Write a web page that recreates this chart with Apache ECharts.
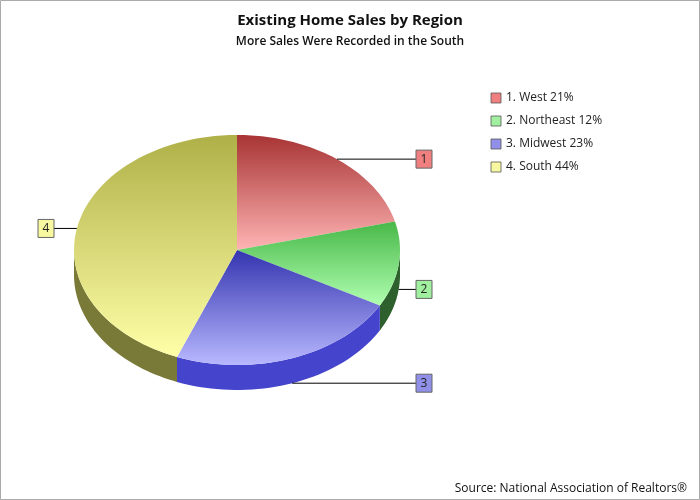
<!DOCTYPE html>
<html><head><meta charset="utf-8">
<script src="https://cdn.jsdelivr.net/npm/echarts@6/dist/echarts.min.js"></script>
<style>html,body{margin:0;padding:0;background:#fff}#c{width:700px;height:500px}</style>
</head><body><div id="c"></div>
<script>
const categories = ['West', 'Northeast', 'Midwest', 'South'];
const values = [21, 12, 23, 44];
const topDark = ['#a83434', '#48b848', '#3434b0', '#b0b048'];
const topLight = ['#ffb4b4', '#b0ffb0', '#b8b8ff', '#ffffa8'];
const sideCol = ['#7a2020', '#2e602e', '#4444cc', '#7a7a38'];
const labelFill = ['#f08080', '#a0f0a0', '#9090e8', '#f8f8a0'];

const cx = 237, cy = 250, rx = 163, ry = 115, depth = 25;
const total = values.reduce((a, b) => a + b, 0);
const starts = []; let acc = 0;
values.forEach(v => { starts.push(acc); acc += v; });
const pt = (t, dy) => [cx + rx * Math.sin(t), cy - ry * Math.cos(t) + (dy || 0)];

const chart = echarts.init(document.getElementById('c'));
const legendEls = [];
categories.forEach((c, i) => {
  const y = 98 + i * 23;
  legendEls.push({type: 'rect', shape: {x: 491, y: y - 5, width: 10, height: 10}, style: {fill: labelFill[i], stroke: '#555', lineWidth: 0.8}});
  legendEls.push({type: 'text', x: 506, y: y, style: {text: (i + 1) + '. ' + c + ' ' + values[i] + '%', fill: '#222', font: '12px "Open Sans"', verticalAlign: 'middle'}});
});

chart.setOption({
  animation: false,
  title: [
    {text: 'Existing Home Sales by Region', left: 'center', top: 8, textStyle: {fontFamily: 'Open Sans', fontSize: 15, fontWeight: 'bold', color: '#111'}},
    {text: 'More Sales Were Recorded in the South', left: 'center', top: 31, textStyle: {fontFamily: 'Open Sans', fontSize: 12, fontWeight: 600, color: '#111'}},
    {text: 'Source: National Association of Realtors®', right: 8, bottom: 0, textStyle: {fontFamily: 'Open Sans', fontSize: 12, fontWeight: 'normal', color: '#111'}}
  ],
  graphic: [{type: 'rect', shape: {x: 0.5, y: 0.5, width: 699, height: 499}, style: {fill: 'none', stroke: '#aaa', lineWidth: 1}, silent: true}].concat(legendEls),
  xAxis: {show: false, min: 0, max: 1}, yAxis: {show: false, min: 0, max: 1},
  grid: {left: 0, right: 0, top: 0, bottom: 0},
  series: [{
    type: 'custom',
    coordinateSystem: 'none',
    data: values.map((v, i) => [i, v]),
    renderItem: function (params, api) {
      const i = api.value(0);
      const a0 = starts[i] / total * 2 * Math.PI, a1 = (starts[i] + values[i]) / total * 2 * Math.PI;
      const children = [];
      const s0 = Math.max(a0, Math.PI / 2), s1 = Math.min(a1, 3 * Math.PI / 2);
      if (s1 > s0) {
        const up = [], dn = [];
        const n = 40;
        for (let k = 0; k <= n; k++) { const t = s0 + (s1 - s0) * k / n; up.push(pt(t)); dn.push(pt(t, depth)); }
        children.push({type: 'polygon', shape: {points: up.concat(dn.reverse())}, style: {fill: sideCol[i]}});
      }
      const pts = [[cx, cy]]; const n = 60;
      for (let k = 0; k <= n; k++) pts.push(pt(a0 + (a1 - a0) * k / n));
      const ys = pts.map(p => p[1]);
      const y0 = Math.min.apply(null, ys), y1 = Math.max.apply(null, ys);
      children.push({type: 'polygon', shape: {points: pts}, style: {
        fill: {type: 'linear', x: 0, y: y0, x2: 0, y2: y1, global: true,
          colorStops: [{offset: 0, color: topDark[i]}, {offset: 1, color: topLight[i]}]}}});
      const am = (a0 + a1) / 2;
      const p = pt(am, Math.cos(am) < 0 ? depth : 0);
      const right = Math.sin(am) >= 0;
      const bx = right ? 416 : 38;
      children.push({type: 'line', shape: {x1: p[0], y1: p[1], x2: right ? bx : bx + 16, y2: p[1]}, style: {stroke: '#000', lineWidth: 1}});
      children.push({type: 'rect', shape: {x: bx, y: p[1] - 9, width: 16, height: 18}, style: {fill: labelFill[i], stroke: '#666', lineWidth: 1}});
      children.push({type: 'text', x: bx + 8, y: p[1], style: {text: String(i + 1), fill: '#222', font: '12px "Open Sans"', align: 'center', verticalAlign: 'middle'}});
      return {type: 'group', children: children};
    }
  }]
});
</script></body></html>
